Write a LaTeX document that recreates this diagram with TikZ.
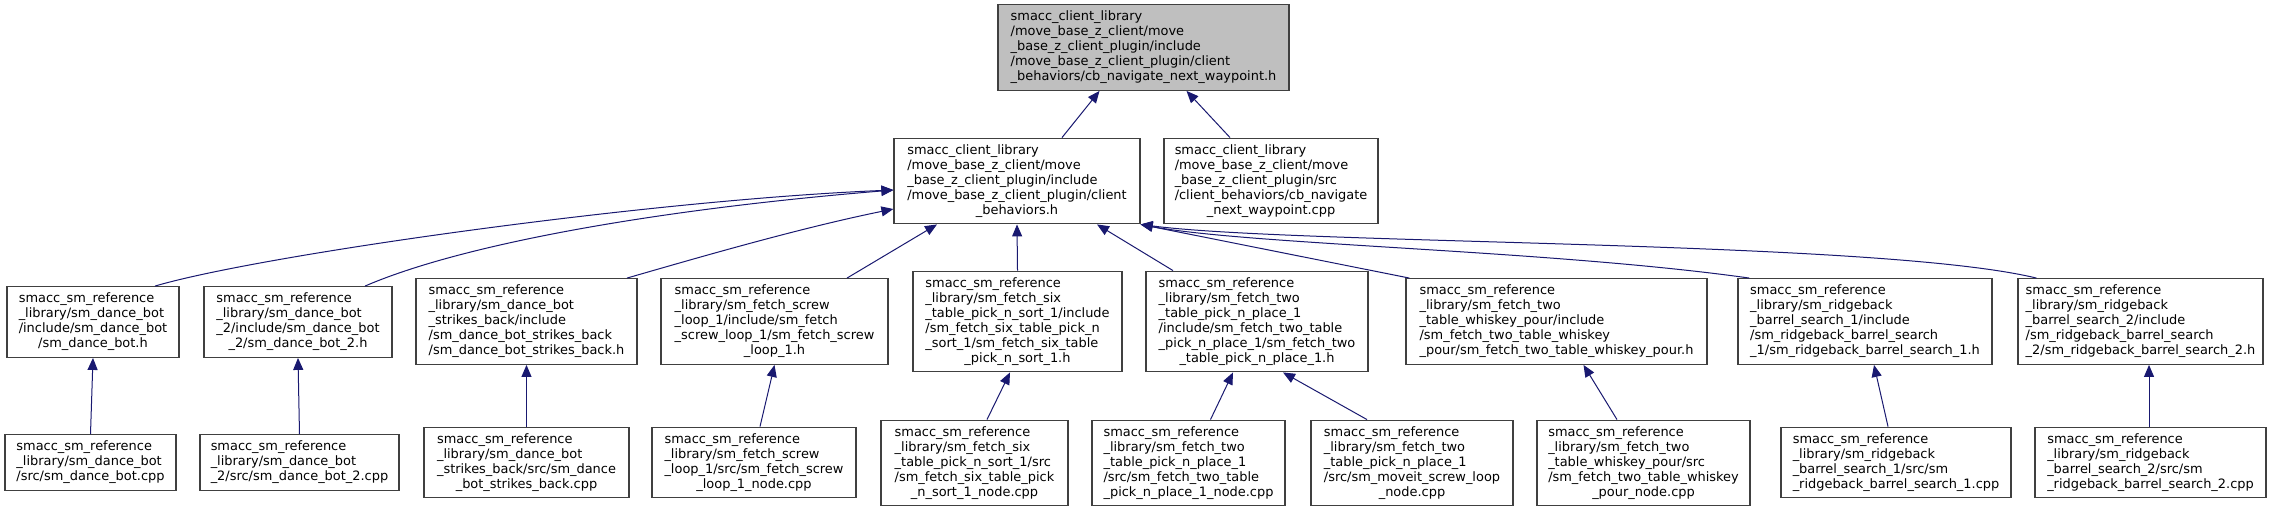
\documentclass[tikz,border=0pt]{standalone}
\usepackage{fontspec}
\setmainfont{DejaVu Sans}
\usetikzlibrary{calc, arrows.meta}

\definecolor{edgeblue}{HTML}{191970}
\definecolor{curfill}{HTML}{BFBFBF}
\definecolor{boxline}{HTML}{404040}

% file label: left-aligned lines, last line centred
\newcommand{\flabel}[2]{\begin{tabular}{@{}l@{}}#1\\\multicolumn{1}{@{}c@{}}{#2}\end{tabular}}

\tikzset{
  file/.style={draw=boxline, line width=0.9pt, fill=white, inner sep=4pt,
    font=\fontsize{9.7}{11.25}\selectfont},
  dep/.style={draw=edgeblue, line width=0.75pt, -{Triangle[length=9pt,width=7.5pt]}}
}

\begin{document}
\begin{tikzpicture}[x=0.75pt, y=-0.75pt]

\fill[white] (0,0) rectangle (2279,511);
\useasboundingbox (0,0) rectangle (2279,511);

% Draw the header being documented
\node[file, fill=curfill, minimum width=291*.75pt, minimum height=85*.75pt] (top) at (1143.5,47.5)
  {\flabel{smacc\_client\_library\\/move\_base\_z\_client/move\\\_base\_z\_client\_plugin/include\\/move\_base\_z\_client\_plugin/client}{\_behaviors/cb\_navigate\_next\_waypoint.h}};

% Files that include it directly
\node[file, minimum width=246*.75pt, minimum height=84*.75pt] (mid) at (1017,181)
  {\flabel{smacc\_client\_library\\/move\_base\_z\_client/move\\\_base\_z\_client\_plugin/include\\/move\_base\_z\_client\_plugin/client}{\_behaviors.h}};
\node[file, minimum width=214*.75pt, minimum height=84*.75pt] (cpp) at (1271,181)
  {\flabel{smacc\_client\_library\\/move\_base\_z\_client/move\\\_base\_z\_client\_plugin/src\\/client\_behaviors/cb\_navigate}{\_next\_waypoint.cpp}};

% State machine headers
\node[file, minimum width=172*.75pt, minimum height=70*.75pt] (dance) at (93,322)
  {\flabel{smacc\_sm\_reference\\\_library/sm\_dance\_bot\\/include/sm\_dance\_bot}{/sm\_dance\_bot.h}};
\node[file, minimum width=188*.75pt, minimum height=70*.75pt] (dance2) at (298,322)
  {\flabel{smacc\_sm\_reference\\\_library/sm\_dance\_bot\\\_2/include/sm\_dance\_bot}{\_2/sm\_dance\_bot\_2.h}};
\node[file, minimum width=221*.75pt, minimum height=85*.75pt] (strikes) at (526.5,321.5)
  {\flabel{smacc\_sm\_reference\\\_library/sm\_dance\_bot\\\_strikes\_back/include\\/sm\_dance\_bot\_strikes\_back}{/sm\_dance\_bot\_strikes\_back.h}};
\node[file, minimum width=227*.75pt, minimum height=85*.75pt] (screw) at (774.5,321.5)
  {\flabel{smacc\_sm\_reference\\\_library/sm\_fetch\_screw\\\_loop\_1/include/sm\_fetch\\\_screw\_loop\_1/sm\_fetch\_screw}{\_loop\_1.h}};
\node[file, minimum width=209*.75pt, minimum height=99*.75pt] (sixsort) at (1017.5,321.5)
  {\flabel{smacc\_sm\_reference\\\_library/sm\_fetch\_six\\\_table\_pick\_n\_sort\_1/include\\/sm\_fetch\_six\_table\_pick\_n\\\_sort\_1/sm\_fetch\_six\_table}{\_pick\_n\_sort\_1.h}};
\node[file, minimum width=222*.75pt, minimum height=99*.75pt] (twoplace) at (1257,321.5)
  {\flabel{smacc\_sm\_reference\\\_library/sm\_fetch\_two\\\_table\_pick\_n\_place\_1\\/include/sm\_fetch\_two\_table\\\_pick\_n\_place\_1/sm\_fetch\_two}{\_table\_pick\_n\_place\_1.h}};
\node[file, minimum width=301*.75pt, minimum height=85*.75pt] (whiskey) at (1556.5,321.5)
  {\flabel{smacc\_sm\_reference\\\_library/sm\_fetch\_two\\\_table\_whiskey\_pour/include\\/sm\_fetch\_two\_table\_whiskey}{\_pour/sm\_fetch\_two\_table\_whiskey\_pour.h}};
\node[file, minimum width=254*.75pt, minimum height=85*.75pt] (barrel1) at (1865,321.5)
  {\flabel{smacc\_sm\_reference\\\_library/sm\_ridgeback\\\_barrel\_search\_1/include\\/sm\_ridgeback\_barrel\_search}{\_1/sm\_ridgeback\_barrel\_search\_1.h}};
\node[file, minimum width=245*.75pt, minimum height=85*.75pt] (barrel2) at (2140.5,321.5)
  {\flabel{smacc\_sm\_reference\\\_library/sm\_ridgeback\\\_barrel\_search\_2/include\\/sm\_ridgeback\_barrel\_search}{\_2/sm\_ridgeback\_barrel\_search\_2.h}};

% Sources
\node[file, minimum width=171*.75pt, minimum height=55*.75pt] (dancesrc) at (90.5,462.5)
  {\flabel{smacc\_sm\_reference\\\_library/sm\_dance\_bot}{/src/sm\_dance\_bot.cpp}};
\node[file, minimum width=199*.75pt, minimum height=55*.75pt] (dance2src) at (299.5,462.5)
  {\flabel{smacc\_sm\_reference\\\_library/sm\_dance\_bot}{\_2/src/sm\_dance\_bot\_2.cpp}};
\node[file, minimum width=205*.75pt, minimum height=69*.75pt] (strikessrc) at (526.5,462.5)
  {\flabel{smacc\_sm\_reference\\\_library/sm\_dance\_bot\\\_strikes\_back/src/sm\_dance}{\_bot\_strikes\_back.cpp}};
\node[file, minimum width=204*.75pt, minimum height=69*.75pt] (screwsrc) at (754,462.5)
  {\flabel{smacc\_sm\_reference\\\_library/sm\_fetch\_screw\\\_loop\_1/src/sm\_fetch\_screw}{\_loop\_1\_node.cpp}};
\node[file, minimum width=187*.75pt, minimum height=84*.75pt] (sixsortsrc) at (974.5,463)
  {\flabel{smacc\_sm\_reference\\\_library/sm\_fetch\_six\\\_table\_pick\_n\_sort\_1/src\\/sm\_fetch\_six\_table\_pick}{\_n\_sort\_1\_node.cpp}};
\node[file, minimum width=193*.75pt, minimum height=84*.75pt] (twoplacesrc) at (1188.5,463)
  {\flabel{smacc\_sm\_reference\\\_library/sm\_fetch\_two\\\_table\_pick\_n\_place\_1\\/src/sm\_fetch\_two\_table}{\_pick\_n\_place\_1\_node.cpp}};
\node[file, minimum width=202*.75pt, minimum height=84*.75pt] (moveitsrc) at (1412,463)
  {\flabel{smacc\_sm\_reference\\\_library/sm\_fetch\_two\\\_table\_pick\_n\_place\_1\\/src/sm\_moveit\_screw\_loop}{\_node.cpp}};
\node[file, minimum width=213*.75pt, minimum height=84*.75pt] (whiskeysrc) at (1643.5,463)
  {\flabel{smacc\_sm\_reference\\\_library/sm\_fetch\_two\\\_table\_whiskey\_pour/src\\/sm\_fetch\_two\_table\_whiskey}{\_pour\_node.cpp}};
\node[file, minimum width=230*.75pt, minimum height=69*.75pt] (barrel1src) at (1896,462.5)
  {\flabel{smacc\_sm\_reference\\\_library/sm\_ridgeback\\\_barrel\_search\_1/src/sm}{\_ridgeback\_barrel\_search\_1.cpp}};
\node[file, minimum width=231*.75pt, minimum height=69*.75pt] (barrel2src) at (2150.5,462.5)
  {\flabel{smacc\_sm\_reference\\\_library/sm\_ridgeback\\\_barrel\_search\_2/src/sm}{\_ridgeback\_barrel\_search\_2.cpp}};

% Include edges, upper part
\draw[dep] ($(mid.north)+(45,0)$) -- ($(top.south)+(-44,0)$);
\draw[dep] ($(cpp.north)+(-41,0)$) -- ($(top.south)+(43,0)$);

\draw[dep] ($(dance.north)+(62,0)$) .. controls (260,255) and (650,200) .. ($(mid.west)+(0,9)$);
\draw[dep] ($(dance2.north)+(67,0)$) .. controls (460,245) and (650,210) .. ($(mid.west)+(0,9)$);
\draw[dep] ($(strikes.north)+(100.5,0)$) .. controls (700,257) and (800,228) .. ($(mid.west)+(0,28)$);
\draw[dep] ($(screw.north)+(72.5,0)$) -- ($(mid.south)+(-80,0)$);
\draw[dep] (sixsort.north) -- (mid.south);
\draw[dep] ($(twoplace.north)+(-84,0)$) -- ($(mid.south)+(80,0)$);
\draw[dep] ($(whiskey.north west)+(4,0)$) -- (mid.south east);
\draw[dep] ($(barrel1.north west)+(12,0)$) .. controls (1550,250) and (1250,245) .. (mid.south east);
\draw[dep] ($(barrel2.north west)+(19,0)$) .. controls (1880,240) and (1300,245) .. (mid.south east);

% Include edges, lower part
\draw[dep] (dancesrc.north) -- (dance.south);
\draw[dep] (dance2src.north) -- (dance2.south);
\draw[dep] (strikessrc.north) -- (strikes.south);
\draw[dep] ($(screwsrc.north)+(6,0)$) -- (screw.south);
\draw[dep] ($(sixsortsrc.north)+(12.5,0)$) -- ($(sixsort.south)+(-7.5,0)$);
\draw[dep] ($(twoplacesrc.north)+(22,0)$) -- ($(twoplace.south)+(-24,0)$);
\draw[dep] ($(moveitsrc.north)+(-45,0)$) -- ($(twoplace.south)+(26,0)$);
\draw[dep] ($(whiskeysrc.north)+(-26.5,0)$) -- ($(whiskey.south)+(27,0)$);
\draw[dep] ($(barrel1src.north)+(-8,0)$) -- ($(barrel1.south)+(9,0)$);
\draw[dep] ($(barrel2src.north)+(-1.5,0)$) -- ($(barrel2.south)+(8.5,0)$);
\end{tikzpicture}
\end{document}
